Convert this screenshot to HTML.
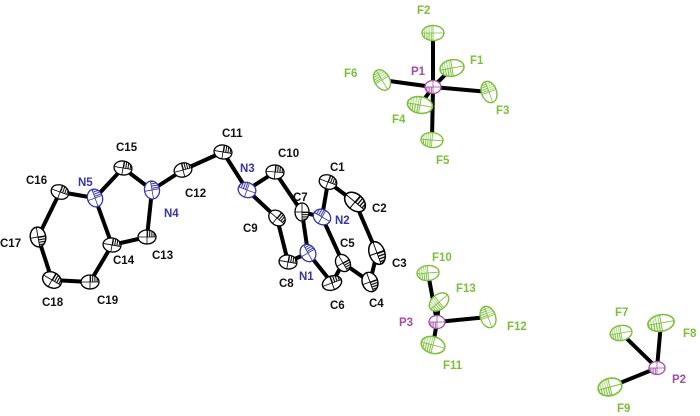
<!DOCTYPE html>
<html><head><meta charset="utf-8"><style>
html,body{margin:0;padding:0;background:#fff}
svg{display:block}
text{font-family:"Liberation Sans",sans-serif;font-weight:bold;font-size:11.5px}
.c{fill:#111}.n{fill:#3535a8}.f{fill:#7bbf3a}.p{fill:#a64aa8}
</style></head><body>
<svg width="700" height="416" viewBox="0 0 700 416" xmlns="http://www.w3.org/2000/svg">
<defs>
<pattern id="hk" width="2.2" height="2.2" patternUnits="userSpaceOnUse"><rect x="0" y="0" width="1" height="2.2" fill="#000"/></pattern>
<pattern id="hb" width="2.2" height="2.2" patternUnits="userSpaceOnUse"><rect x="0" y="0" width="1" height="2.2" fill="#3535a8"/></pattern>
<pattern id="hg" width="2.2" height="2.2" patternUnits="userSpaceOnUse"><rect x="0" y="0" width="1" height="2.2" fill="#7bbf3a"/></pattern>
<pattern id="hp" width="2.2" height="2.2" patternUnits="userSpaceOnUse"><rect x="0" y="0" width="1" height="2.2" fill="#a64aa8"/></pattern>
<g id="C"><ellipse rx="9" ry="7" fill="#fff" stroke="#000" stroke-width="1.3"/><path d="M0,0 L9,0 A9,7 0 0,0 0,-7 Z" fill="url(#hk)"/><line x1="-9" y1="0" x2="9" y2="0" stroke="#000" stroke-width=".8"/><line x1="0" y1="-7" x2="0" y2="7" stroke="#000" stroke-width=".8"/></g>
<g id="N"><ellipse rx="9" ry="7.5" fill="#fff" stroke="#3535a8" stroke-width="1.3"/><path d="M0,0 L-9,0 A9,7.5 0 0,1 0,-7.5 Z" fill="url(#hb)"/><line x1="-9" y1="0" x2="9" y2="0" stroke="#3535a8" stroke-width=".8"/><line x1="0" y1="-7.5" x2="0" y2="7.5" stroke="#3535a8" stroke-width=".8"/></g>
<g id="F"><ellipse rx="11" ry="7.5" fill="#fff" stroke="#7bbf3a" stroke-width="1.4"/><path d="M0,0 L-11,0 A11,7.5 0 0,0 0,7.5 Z" fill="url(#hg)"/><path d="M0,0 L0,-7.5 A11,7.5 0 0,0 -11,0 Z" fill="url(#hg)" opacity=".6"/><line x1="-11" y1="0" x2="11" y2="0" stroke="#7bbf3a" stroke-width=".8"/><line x1="0" y1="-7.5" x2="0" y2="7.5" stroke="#7bbf3a" stroke-width=".8"/></g>
<g id="P"><ellipse rx="8" ry="6.5" fill="#fff" stroke="#a64aa8" stroke-width="1.3"/><path d="M0,0 L-8,0 A8,6.5 0 0,0 0,6.5 Z" fill="url(#hp)"/><line x1="-8" y1="0" x2="8" y2="0" stroke="#a64aa8" stroke-width=".8"/><line x1="0" y1="-6.5" x2="0" y2="6.5" stroke="#a64aa8" stroke-width=".8"/></g>
</defs>
<g stroke="#000" stroke-width="4" stroke-linecap="round">
<line x1="95" y1="198" x2="123" y2="168"/><line x1="123" y1="168" x2="152" y2="190"/>
<line x1="152" y1="190" x2="183" y2="170"/><line x1="183" y1="170" x2="223" y2="152"/>
<line x1="223" y1="152" x2="247" y2="190"/><line x1="247" y1="190" x2="275" y2="172"/>
<line x1="247" y1="190" x2="277" y2="218"/><line x1="275" y1="172" x2="302" y2="212"/>
<line x1="277" y1="218" x2="288" y2="262"/><line x1="288" y1="262" x2="308" y2="253"/>
<line x1="308" y1="253" x2="302" y2="212"/><line x1="302" y1="212" x2="322" y2="217"/>
<line x1="322" y1="217" x2="328" y2="182"/><line x1="328" y1="182" x2="355" y2="202"/>
<line x1="355" y1="202" x2="377" y2="253"/><line x1="377" y1="253" x2="370" y2="282"/>
<line x1="370" y1="282" x2="343" y2="263"/><line x1="343" y1="263" x2="322" y2="217"/>
<line x1="308" y1="253" x2="332" y2="283"/><line x1="332" y1="283" x2="343" y2="263"/>
<line x1="152" y1="190" x2="147" y2="237"/><line x1="147" y1="237" x2="112" y2="245"/>
<line x1="112" y1="245" x2="95" y2="198"/><line x1="95" y1="198" x2="60" y2="192"/>
<line x1="60" y1="192" x2="38" y2="237"/><line x1="38" y1="237" x2="52" y2="280"/>
<line x1="52" y1="280" x2="90" y2="282"/><line x1="90" y1="282" x2="112" y2="245"/>
<!-- PF6 -->
<line x1="433" y1="87" x2="433" y2="33"/><line x1="433" y1="87" x2="452" y2="68"/>
<line x1="433" y1="87" x2="489" y2="92"/><line x1="433" y1="87" x2="432" y2="140"/>
<line x1="433" y1="87" x2="420" y2="105"/><line x1="433" y1="87" x2="382" y2="80"/>
<line x1="437" y1="322" x2="428" y2="273"/><line x1="437" y1="322" x2="439" y2="302"/>
<line x1="437" y1="322" x2="488" y2="317"/><line x1="437" y1="322" x2="433" y2="345"/>
<line x1="657" y1="368" x2="621" y2="333"/><line x1="657" y1="368" x2="661" y2="323"/>
<line x1="657" y1="368" x2="610" y2="387"/>
</g>
<use href="#C" transform="translate(123,168) rotate(10)"/>
<use href="#C" transform="translate(183,170) rotate(-15)"/>
<use href="#C" transform="translate(223,152) rotate(10)"/>
<use href="#C" transform="translate(275,172) rotate(5)"/>
<use href="#C" transform="translate(277,218) rotate(40)"/>
<use href="#C" transform="translate(288,262) rotate(10)"/>
<use href="#C" transform="translate(302,212) rotate(90)"/>
<use href="#C" transform="translate(328,182) rotate(20)"/>
<use href="#C" transform="translate(355,202) rotate(40) scale(1.3,1.15)"/>
<use href="#C" transform="translate(377,253) rotate(70) scale(1.3,1.1)"/>
<use href="#C" transform="translate(370,282) rotate(70) scale(1.1,1.1)"/>
<use href="#C" transform="translate(343,263) rotate(60)"/>
<use href="#C" transform="translate(332,283) rotate(-20) scale(1.1,1)"/>
<use href="#C" transform="translate(147,237)"/>
<use href="#C" transform="translate(112,245) rotate(10)"/>
<use href="#C" transform="translate(60,192) rotate(20)"/>
<use href="#C" transform="translate(38,237) rotate(80) scale(1.1,1.1)"/>
<use href="#C" transform="translate(52,280) rotate(30) scale(1.1,1.1)"/>
<use href="#C" transform="translate(90,282)"/>
<use href="#N" transform="translate(95,198) rotate(70)"/>
<use href="#N" transform="translate(152,190) rotate(80)"/>
<use href="#N" transform="translate(247,190) rotate(20)"/>
<use href="#N" transform="translate(322,217) rotate(30)"/>
<use href="#N" transform="translate(308,253) rotate(60)"/>
<use href="#F" transform="translate(433,33)"/>
<use href="#F" transform="translate(452,68) rotate(-10) scale(1.1,1.1)"/>
<use href="#F" transform="translate(489,92) rotate(70)"/>
<use href="#F" transform="translate(432,140) rotate(5)"/>
<use href="#F" transform="translate(420,105) rotate(10) scale(1.15,1.1)"/>
<use href="#F" transform="translate(382,80) rotate(60)"/>
<use href="#P" transform="translate(433,87)"/>
<use href="#F" transform="translate(428,273) rotate(-5)"/>
<use href="#F" transform="translate(439,302) rotate(-40)"/>
<use href="#F" transform="translate(488,317) rotate(70)"/>
<use href="#F" transform="translate(433,345) rotate(15) scale(1.1,1.1)"/>
<use href="#P" transform="translate(437,322)"/>
<use href="#F" transform="translate(621,333) rotate(-10)"/>
<use href="#F" transform="translate(661,323) rotate(-10) scale(1.2,1.1)"/>
<use href="#F" transform="translate(610,387) rotate(-15) scale(1.1,1.15)"/>
<use href="#P" transform="translate(657,368)"/>
<g class="c">
<text x="116" y="151">C15</text><text x="26" y="184">C16</text><text x="185" y="197">C12</text>
<text x="222" y="137">C11</text><text x="278" y="157">C10</text><text x="330" y="171">C1</text>
<text x="293" y="201">C7</text><text x="372" y="212">C2</text><text x="243" y="232">C9</text>
<text x="340" y="247">C5</text><text x="392" y="267">C3</text><text x="279" y="287">C8</text>
<text x="330" y="309">C6</text><text x="369" y="307">C4</text><text x="0" y="247">C17</text>
<text x="113" y="264">C14</text><text x="152" y="259">C13</text><text x="42" y="306">C18</text>
<text x="97" y="304">C19</text>
</g>
<g class="n">
<text x="78" y="186">N5</text><text x="164" y="217">N4</text><text x="240" y="172">N3</text>
<text x="335" y="224">N2</text><text x="299" y="280">N1</text>
</g>
<g class="f">
<text x="417" y="14">F2</text><text x="470" y="64">F1</text><text x="344" y="77">F6</text>
<text x="496" y="114">F3</text><text x="392" y="123">F4</text><text x="436" y="164">F5</text>
<text x="432" y="261">F10</text><text x="456" y="292">F13</text><text x="507" y="330">F12</text>
<text x="443" y="369">F11</text><text x="615" y="316">F7</text><text x="683" y="337">F8</text>
<text x="617" y="412">F9</text>
</g>
<g class="p">
<text x="411" y="75">P1</text><text x="399" y="326">P3</text><text x="672" y="383">P2</text>
</g>
</svg>
</body></html>
